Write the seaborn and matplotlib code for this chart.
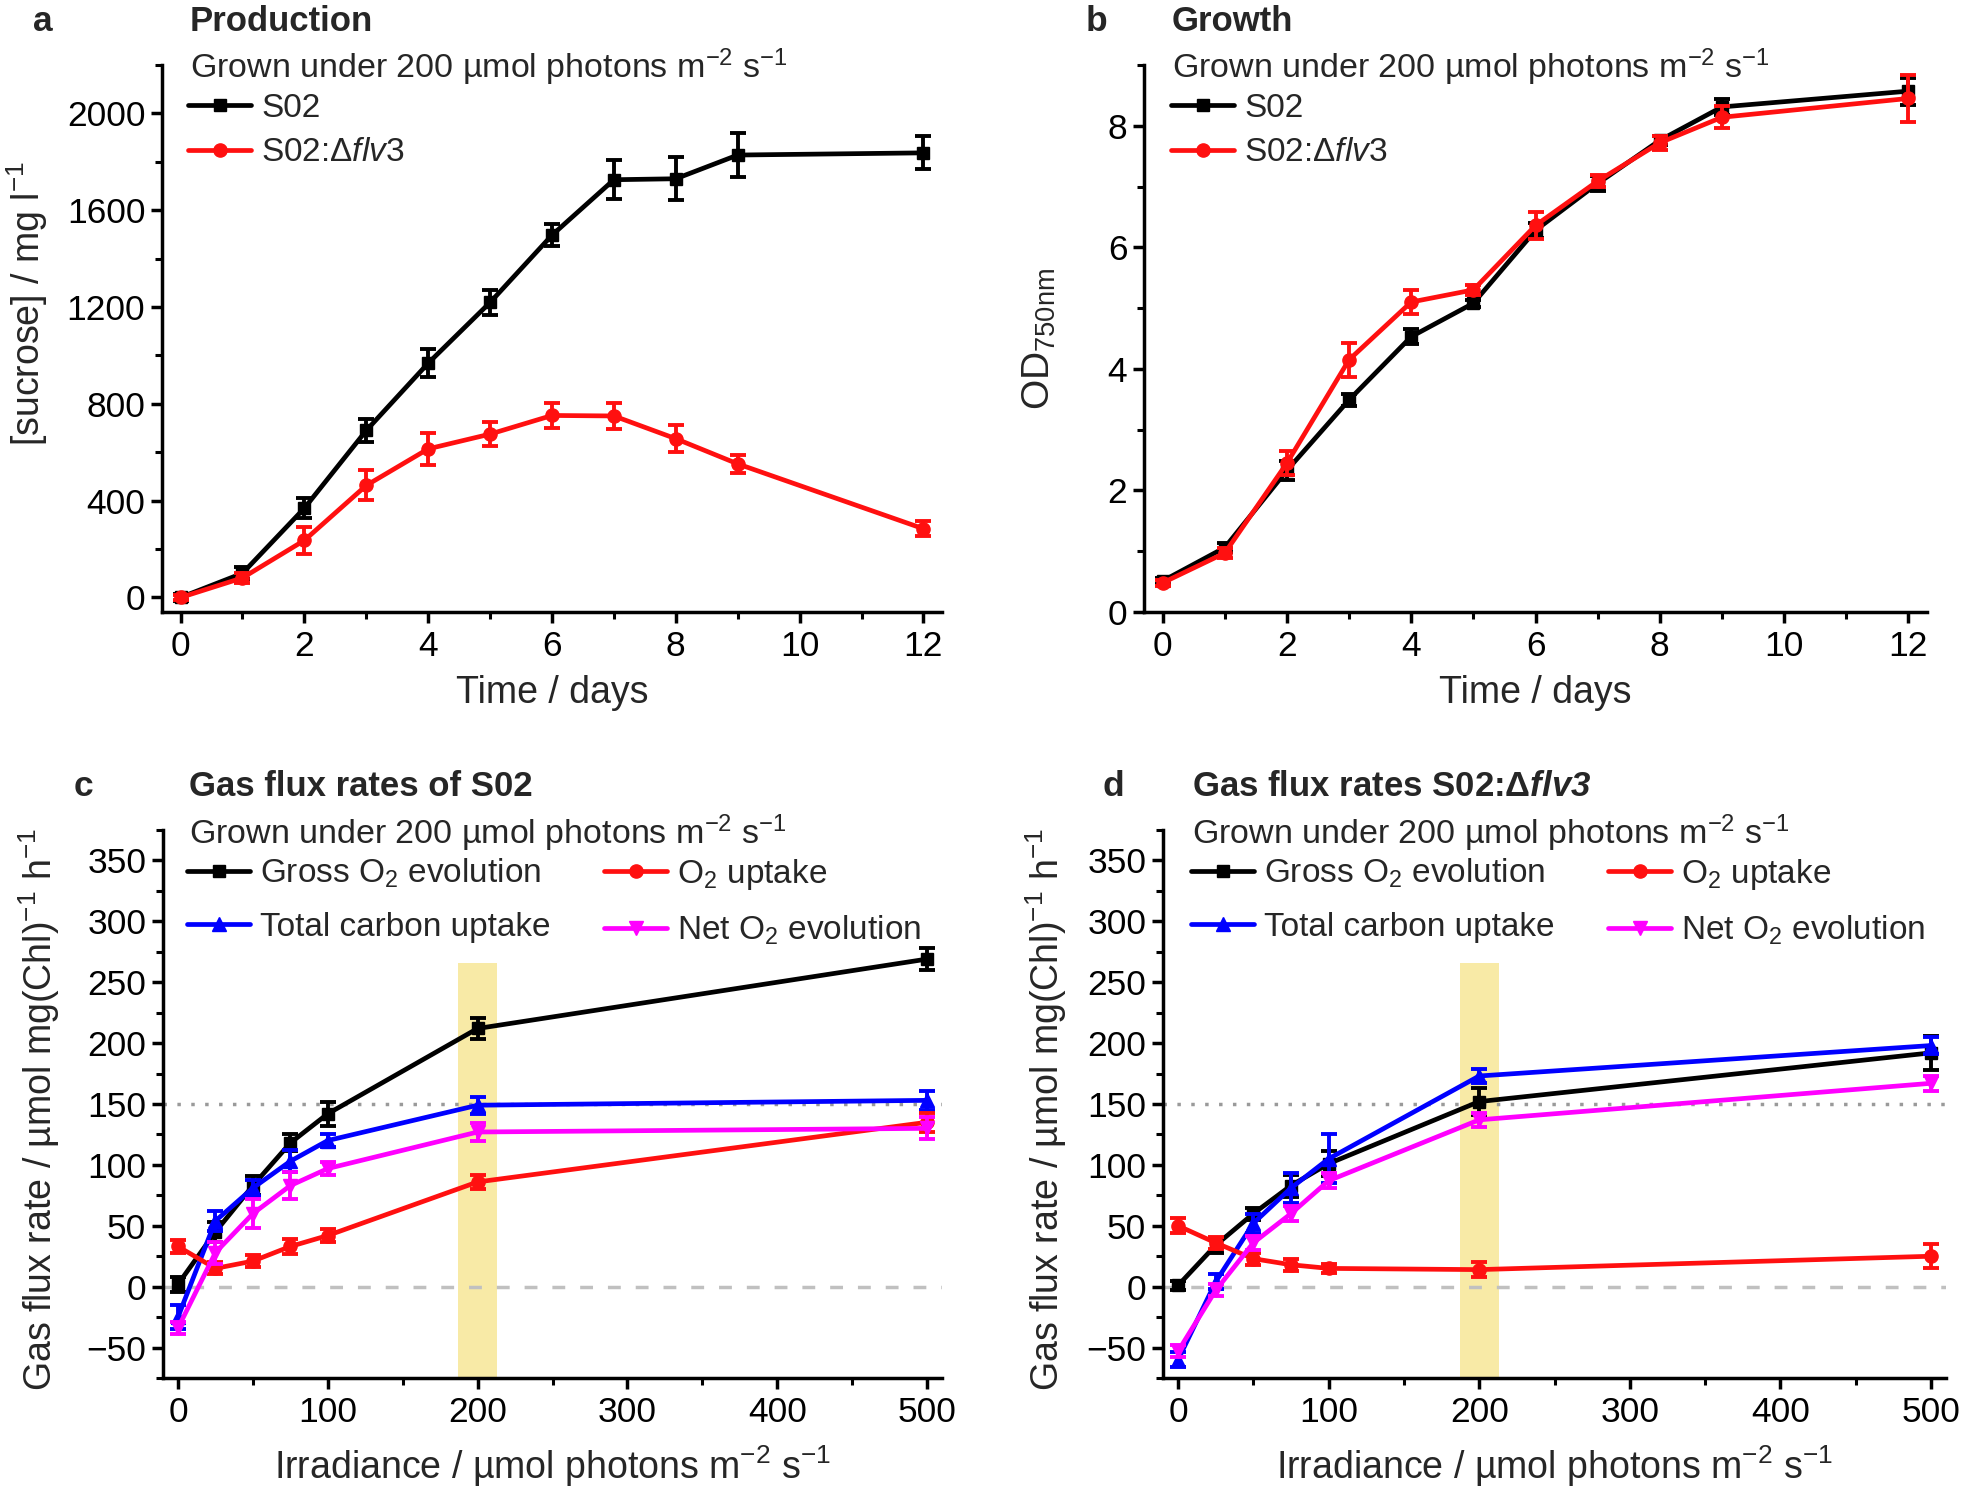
import matplotlib
matplotlib.use("Agg")
import matplotlib.pyplot as plt
from matplotlib.ticker import MultipleLocator
import seaborn as sns

# ---- data ----
days = [0, 1, 2, 3, 4, 5, 6, 7, 8, 9, 12]

suc_s02 = [0, 100, 369, 690, 968, 1219, 1497, 1726, 1730, 1828, 1837]
suc_s02_err = [15, 25, 40, 48, 58, 50, 45, 80, 88, 92, 68]
suc_flv3 = [0, 81, 236, 463, 614, 675, 752, 750, 656, 552, 284]
suc_flv3_err = [12, 20, 55, 62, 66, 50, 50, 54, 55, 36, 32]

od_s02 = [0.51, 1.06, 2.33, 3.49, 4.53, 5.08, 6.28, 7.05, 7.76, 8.31, 8.57]
od_s02_err = [0.05, 0.08, 0.15, 0.10, 0.12, 0.06, 0.12, 0.12, 0.08, 0.13, 0.22]
od_flv3 = [0.48, 0.97, 2.45, 4.15, 5.10, 5.30, 6.36, 7.09, 7.72, 8.14, 8.45]
od_flv3_err = [0.05, 0.08, 0.20, 0.28, 0.19, 0.08, 0.22, 0.10, 0.12, 0.18, 0.38]

irr = [0, 25, 50, 75, 100, 200, 500]

# S02
c_gross = [2, 45, 83, 118, 142, 212, 269]
c_gross_err = [6, 8, 8, 7, 10, 9, 9]
c_uptake = [33, 15, 21, 33, 42, 86, 135]
c_uptake_err = [5, 5, 5, 6, 5, 6, 8]
c_carbon = [-25, 54, 81, 103, 120, 149, 153]
c_carbon_err = [10, 8, 7, 9, 5, 7, 8]
c_net = [-34, 28, 60, 83, 97, 127, 130]
c_net_err = [5, 9, 12, 11, 5, 7, 9]

# S02:dflv3
d_gross = [1, 34, 60, 83, 101, 152, 192]
d_gross_err = [4, 6, 5, 9, 10, 11, 14]
d_uptake = [50, 36, 23, 18, 15, 14, 25]
d_uptake_err = [6, 5, 5, 5, 4, 6, 10]
d_carbon = [-60, 4, 52, 81, 105, 173, 198]
d_carbon_err = [6, 6, 8, 12, 20, 6, 7]
d_net = [-53, -3, 36, 60, 87, 137, 167]
d_net_err = [5, 5, 6, 6, 6, 6, 6]

growth_light = [187, 213]  # highlighted growth irradiance band
band_top = 266

# ---- style ----
sns.set_theme(style="ticks")
plt.rcParams["font.family"] = ["Liberation Sans", "DejaVu Sans"]
plt.rcParams.update({
    "mathtext.fontset": "custom",
    "mathtext.rm": "Liberation Sans",
    "mathtext.it": "Liberation Sans:italic",
    "mathtext.bf": "Liberation Sans:bold",
    "mathtext.bfit": "Liberation Sans:bold:italic",
    "mathtext.default": "regular",
    "axes.linewidth": 2.5,
    "axes.edgecolor": "black",
    "xtick.color": "black",
    "ytick.color": "black",
    "xtick.major.size": 8, "xtick.major.width": 2.5,
    "ytick.major.size": 8, "ytick.major.width": 2.5,
    "xtick.minor.size": 5, "xtick.minor.width": 2.2,
    "ytick.minor.size": 5, "ytick.minor.width": 2.2,
    "xtick.labelsize": 25.5, "ytick.labelsize": 25.5,
    "xtick.major.pad": 5, "ytick.major.pad": 4,
})

W, H = 1961, 1497
fig = plt.figure(figsize=(W / 100, H / 100), dpi=100)


def rect(x0, y0, x1, y1):
    return [x0 / W, 1 - y1 / H, (x1 - x0) / W, (y1 - y0) / H]


def fx(x):
    return x / W


def fy(y):
    return 1 - y / H


ax_a = fig.add_axes(rect(162, 65, 942, 612))
ax_b = fig.add_axes(rect(1144, 65, 1927, 612))
ax_c = fig.add_axes(rect(163, 830, 942, 1378))
ax_d = fig.add_axes(rect(1163, 830, 1946, 1378))

BLACK, RED, BLUE, MAG = "#000000", "#ff1010", "#0000ff", "#ff00ff"


def series(ax, x, y, err, color, marker, label, ms=8.5):
    sns.lineplot(x=x, y=y, ax=ax, color=color, marker=marker, markersize=ms,
                 markeredgecolor=color, markeredgewidth=1, linewidth=3.4,
                 label=label, zorder=4)
    ax.errorbar(x, y, yerr=err, fmt="none", ecolor=color, elinewidth=2.8,
                capsize=6, capthick=2.8, zorder=4)


# panel a
series(ax_a, days, suc_s02, suc_s02_err, BLACK, "s", "S02", 8.5)
series(ax_a, days, suc_flv3, suc_flv3_err, RED, "o", r"S02:Δ$\it{flv3}$", 9.5)
# panel b
series(ax_b, days, od_s02, od_s02_err, BLACK, "s", "S02", 8.5)
series(ax_b, days, od_flv3, od_flv3_err, RED, "o", r"S02:Δ$\it{flv3}$", 9.5)

# panels c, d
for ax, g, ge, u, ue, cc, ce, n, ne in [
    (ax_c, c_gross, c_gross_err, c_uptake, c_uptake_err, c_carbon, c_carbon_err, c_net, c_net_err),
    (ax_d, d_gross, d_gross_err, d_uptake, d_uptake_err, d_carbon, d_carbon_err, d_net, d_net_err),
]:
    ax.fill_between(growth_light, -75, band_top, color="#f8eaa6", lw=0, zorder=0)
    ax.axhline(150, color="#9a9a9a", lw=2.5, ls=(0, (1, 3)), zorder=1)
    ax.axhline(0, color="#c0c0c0", lw=2.5, ls=(0, (3.7, 4.3)), zorder=1)
    series(ax, irr, g, ge, BLACK, "s", r"Gross O$_2$ evolution", 8.5)
    series(ax, irr, cc, ce, BLUE, "^", "Total carbon uptake", 9.5)
    series(ax, irr, u, ue, RED, "o", r"O$_2$ uptake", 9.5)
    series(ax, irr, n, ne, MAG, "v", r"Net O$_2$ evolution", 9.5)

# axes limits / ticks
for ax in (ax_a, ax_b):
    ax.xaxis.set_major_locator(MultipleLocator(2))
    ax.xaxis.set_minor_locator(MultipleLocator(1))
    ax.set_xlim(-0.3, 12.3)
    ax.set_xlabel("Time / days", fontsize=27)
    ax.xaxis.set_label_coords(0.5, -0.115)
ax_a.yaxis.set_major_locator(MultipleLocator(400))
ax_a.yaxis.set_minor_locator(MultipleLocator(200))
ax_a.set_ylim(-60, 2200)
ax_a.set_ylabel(r"[sucrose] / mg l$^{-1}$", fontsize=27)
ax_a.yaxis.set_label_coords(-0.143, 0.565)
ax_b.yaxis.set_major_locator(MultipleLocator(2))
ax_b.yaxis.set_minor_locator(MultipleLocator(1))
ax_b.set_ylim(0, 9)
ax_b.set_ylabel(r"OD$_{750nm}$", fontsize=28)
ax_b.yaxis.set_label_coords(-0.11, 0.5)

for ax in (ax_a, ax_b, ax_c, ax_d):
    pass

for ax in (ax_c, ax_d):
    ax.xaxis.set_major_locator(MultipleLocator(100))
    ax.xaxis.set_minor_locator(MultipleLocator(50))
    ax.yaxis.set_major_locator(MultipleLocator(50))
    ax.yaxis.set_minor_locator(MultipleLocator(25))
    ax.set_xlim(-10, 510)
    ax.set_ylim(-75, 375)
    ax.set_xlabel(r"Irradiance / µmol photons m$^{-2}$ s$^{-1}$", fontsize=27)
    ax.xaxis.set_label_coords(0.5, -0.12)
    ax.set_ylabel(r"Gas flux rate / µmol mg(Chl)$^{-1}$ h$^{-1}$", fontsize=27)
ax_c.yaxis.set_label_coords(-0.13, 0.49)
ax_d.yaxis.set_label_coords(-0.12, 0.49)

for ax in (ax_a, ax_b, ax_c, ax_d):
    sns.despine(ax=ax)
    ax.tick_params(which="both", direction="out")
    if ax.get_legend():
        ax.get_legend().remove()

leg_kw = dict(frameon=False, fontsize=24, borderpad=0, borderaxespad=0,
              handlelength=1.9, handletextpad=0.3, loc="upper left",
              bbox_transform=fig.transFigure)

for ax, x0 in ((ax_a, 188), (ax_b, 1171)):
    h, l = ax.get_legend_handles_labels()
    ax.legend(h[:2], l[:2], labelspacing=0.4, bbox_to_anchor=(fx(x0), fy(93)), **leg_kw)

for ax, x0, x1 in ((ax_c, 187, 604), (ax_d, 1191, 1608)):
    h, l = ax.get_legend_handles_labels()
    first = ax.legend(h[:2], l[:2], labelspacing=0.65, bbox_to_anchor=(fx(x0), fy(857)), **leg_kw)
    ax.add_artist(first)
    ax.legend(h[2:4], l[2:4], labelspacing=0.65, bbox_to_anchor=(fx(x1), fy(857)), **leg_kw)

# panel letters, titles, growth condition
grown = r"Grown under 200 µmol photons m$^{-2}$ s$^{-1}$"
for letter, lx, title, tx, ty, gy in [
    ("a", 33, "Production", 190, 31, 78),
    ("b", 1086, "Growth", 1172, 31, 78),
    ("c", 74, "Gas flux rates of S02", 189, 796, 844),
    ("d", 1102, r"Gas flux rates S02:Δ$\mathbfit{flv3}$", 1192, 796, 844),
]:
    fig.text(fx(lx), fy(ty), letter, fontsize=25.5, weight="bold", va="baseline")
    fig.text(fx(tx), fy(ty), title, fontsize=25, weight="bold", va="baseline")
    fig.text(fx(tx), fy(gy), grown, fontsize=24.5, va="baseline")

fig.savefig("out.png", dpi=100)
